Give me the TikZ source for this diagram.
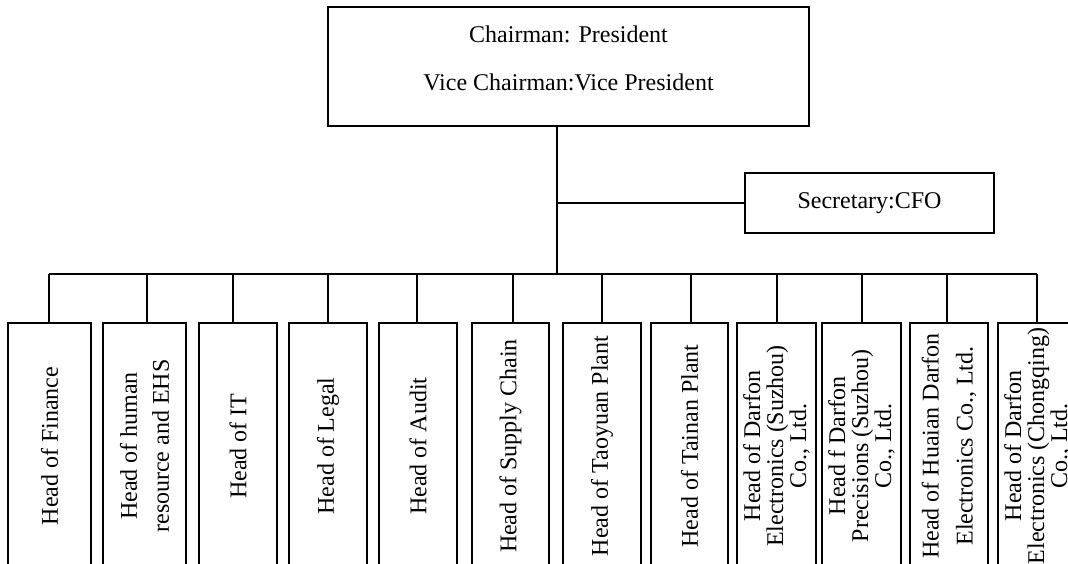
\documentclass[tikz,border=0pt]{standalone}
\usepackage{fontspec}
\setmainfont{Liberation Serif}
\begin{document}
\begin{tikzpicture}[x=1pt,y=-1pt,
  every node/.style={font=\fontsize{24}{23}\selectfont},
  lnk/.style={line width=1.5pt},
  box/.style={draw, line width=1.5pt, inner sep=0pt, align=center},
  vbox/.style={box, rotate=90, minimum width=246pt, minimum height=#1},
  vbox/.default=78pt]
\useasboundingbox (0,0) rectangle (1068,564);
\clip (0,0) rectangle (1068,564);

\node[box, minimum width=481pt, minimum height=119pt, text depth=16pt] (chair) at (568.5,66.5)
  {Chairman: President\\[25pt]Vice Chairman:Vice President};
\node[box, minimum width=249pt, minimum height=60pt] (sec) at (869.5,203) {Secretary:CFO};

\node[vbox=83pt] (b1) at (49.5,446) {Head of Finance};
\node[vbox=83pt] (b2) at (144.5,446) {Head of human\\[9pt]resource and EHS};
\node[vbox=78pt] (b3) at (238,446) {Head of IT};
\node[vbox=78pt] (b4) at (328,446) {Head of Legal};
\node[vbox=78pt] (b5) at (418,446) {Head of Audit};
\node[vbox=77pt] (b6) at (510.5,446) {Head of Supply Chain};
\node[vbox=78pt] (b7) at (602,446) {Head of Taoyuan Plant};
\node[vbox=77pt] (b8) at (689.5,446) {Head of Tainan Plant};
\node[vbox=79pt] (b9) at (776.5,446) {Head of Darfon\\Electronics (Suzhou)\\Co., Ltd.};
\node[vbox=79pt] (b10) at (861.5,446) {Head f Darfon\\Precisions (Suzhou)\\Co., Ltd.};
\node[vbox=78pt] (b11) at (949,446) {Head of Huaian Darfon\\[11pt]Electronics Co., Ltd.};
\node[vbox=79pt] (b12) at (1037.5,446) {Head of Darfon\\Electronics (Chongqing)\\Co., Ltd.};

\coordinate (bus) at (0,274);
\coordinate (m) at ([xshift=-11.5pt]chair.south);
\draw[lnk] (m) -- (m |- bus);
\draw[lnk] (sec.west) -- (sec.west -| m);

\foreach \i/\s in {1/-0.5,2/2.5,3/-5,4/0,5/-1,6/2.5,7/0,8/1.5,9/0.5,10/0.5,11/-2,12/-0.5}{
  \coordinate (d\i) at ([xshift=\s pt]b\i.east);
  \draw[lnk] (d\i) -- (d\i |- bus);
}
\draw[lnk] (d1 |- bus) -- (d12 |- bus);
\end{tikzpicture}
\end{document}
